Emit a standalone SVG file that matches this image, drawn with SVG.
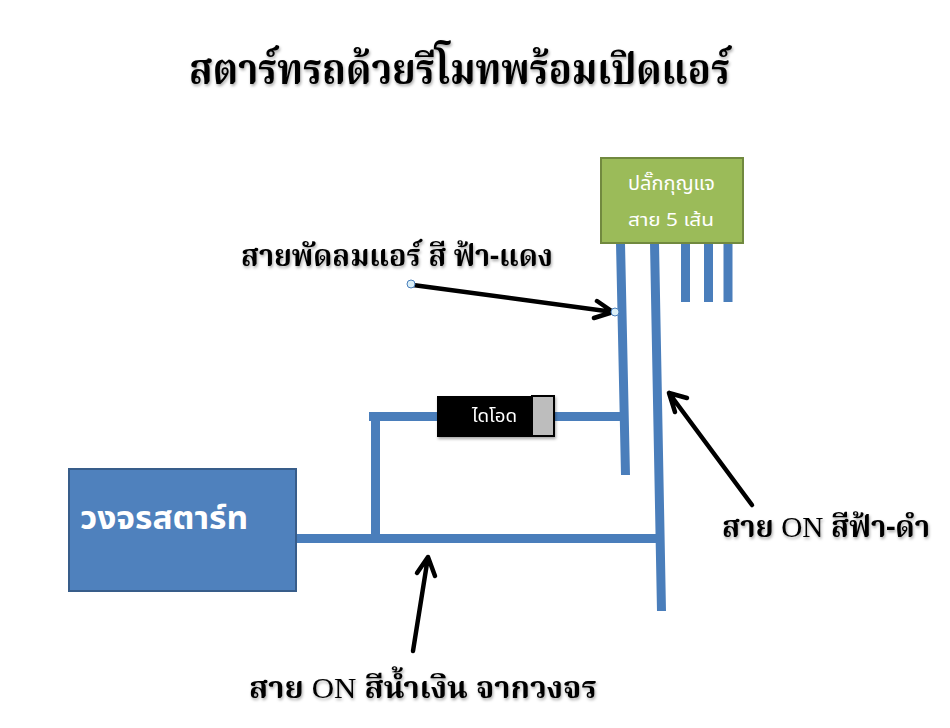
<svg xmlns="http://www.w3.org/2000/svg" width="950" height="728" viewBox="0 0 950 728">
<style>
.w{fill:none;stroke:#4a7ebb;stroke-width:9}
.a{fill:none;stroke:#000;stroke-width:4.5;stroke-linecap:round;stroke-linejoin:round}
.t{font-family:"Noto Serif Thai","Noto Sans Thai","Liberation Serif","Noto Sans",serif;font-weight:700;fill:#000}
.on{font-family:"Liberation Serif",serif;font-weight:400}
.l{font-family:"Noto Sans Thai","Noto Sans","DejaVu Sans",sans-serif;fill:#fff}
</style>
<defs>
<filter id="s" x="-5%" y="-20%" width="110%" height="140%"><feDropShadow dx="1" dy="2" stdDeviation="1.5" flood-color="#000" flood-opacity=".35"/></filter>
</defs>
<rect width="950" height="728" fill="#fff"/>
<g id="connectors">
<path class="w" d="M620.500 243L625.500 475M654.500 243L661.500 611M685.500 243V302M708.500 243V302M728 243V302M369 416.500H437M555 416.500H625M375.500 416V538M296 538.500H661"/>
<path class="a" d="M413 285L613 312M597 301L613 312L594 318"/>
<path class="a" d="M752 505L669 393M675 412L669 393L687 398"/>
<path class="a" d="M413 651L428 557M417 573L428 557L435 576"/>
<circle cx="411" cy="284" r="4" fill="#dcf0f8" stroke="#4a7ebb"/>
<circle cx="615" cy="312" r="4" fill="#dcf0f8" stroke="#4a7ebb"/>
</g>
<g id="key-plug">
<rect x="601" y="158" width="142" height="85" fill="#9bbb59" stroke="#71893f" stroke-width="2"/>
<text class="l" x="628" y="190" font-size="19" textLength="87" lengthAdjust="spacingAndGlyphs">ปลั๊กกุญแจ</text>
<text class="l" x="628" y="226" font-size="18" textLength="86" lengthAdjust="spacingAndGlyphs">สาย 5 เส้น</text>
</g>
<g id="diode" filter="url(#s)">
<rect x="437" y="396" width="118" height="41" fill="#000"/>
<rect x="532" y="396" width="22" height="40" fill="#bdbdbd" stroke="#000" stroke-width="2"/>
<text class="l" x="472" y="422" font-size="17" textLength="45" lengthAdjust="spacingAndGlyphs">ไดโอด</text>
</g>
<g id="start-circuit">
<rect x="69" y="469" width="227" height="122" fill="#4f81bd" stroke="#385d8a" stroke-width="2"/>
<text class="l" x="80" y="529" font-size="32" font-weight="700" textLength="168" lengthAdjust="spacingAndGlyphs">วงจรสตาร์ท</text>
</g>
<g id="labels" filter="url(#s)">
<text class="t" x="189" y="84" font-size="43" textLength="541" lengthAdjust="spacingAndGlyphs">สตาร์ทรถด้วยรีโมทพร้อมเปิดแอร์</text>
<text class="t" x="241" y="266" font-size="30" textLength="312" lengthAdjust="spacingAndGlyphs">สายพัดลมแอร์ สี ฟ้า-แดง</text>
<text class="t" x="722" y="537" font-size="30" textLength="208" lengthAdjust="spacingAndGlyphs">สาย <tspan class="on">ON</tspan> สีฟ้า-ดำ</text>
<text class="t" x="249" y="698" font-size="30" textLength="348" lengthAdjust="spacingAndGlyphs">สาย <tspan class="on">ON</tspan> สีน้ำเงิน จากวงจร</text>
</g>
</svg>
